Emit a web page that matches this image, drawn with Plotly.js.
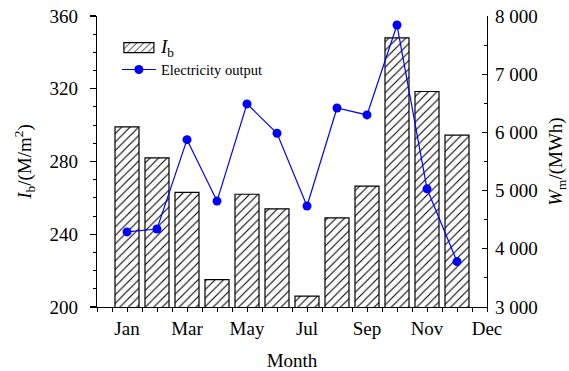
<!DOCTYPE html>
<html>
<head>
<meta charset="utf-8">
<script src="https://cdn.plot.ly/plotly-3.0.1.min.js"></script>
<style>
  html, body { margin: 0; padding: 0; background: #fff; }
  #chart { width: 569px; height: 371px; }
</style>
</head>
<body>
<div id="chart"></div>
<script>
// Monthly irradiation (bars, left axis) and electricity output (line, right axis)
const months = ['Jan', 'Feb', 'Mar', 'Apr', 'May', 'Jun', 'Jul', 'Aug', 'Sep', 'Oct', 'Nov', 'Dec'];
const irradiation = [299, 282, 263, 215, 262, 254, 206, 249, 266.5, 348, 318.5, 294.5];
const electricityOutput = [4290, 4340, 5875, 4820, 6490, 5985, 4735, 6420, 6300, 7845, 5030, 3780];

// Axis labelling: every other month is written, the last label sits one slot past December
const tickPositions = [1, 3, 5, 7, 9, 11, 13];
const tickLabels = ['Jan', 'Mar', 'May', 'Jul', 'Sep', 'Nov', 'Dec'];

const xPos = months.map((m, i) => i + 1);
const serif = '"Liberation Serif", "Times New Roman", serif';

const bars = {
  type: 'bar',
  x: xPos,
  y: irradiation,
  width: 0.8,
  name: '<span style="font-size:19px"><i>I</i><sub>b</sub></span>',
  marker: {
    color: '#ffffff',
    line: { color: '#000000', width: 1.2 },
    pattern: { shape: '/', fgcolor: '#000000', bgcolor: '#ffffff', size: 6, solidity: 0.18 }
  },
  yaxis: 'y',
  hoverinfo: 'skip'
};

const line = {
  type: 'scatter',
  mode: 'lines+markers',
  x: xPos,
  y: electricityOutput,
  name: 'Electricity output',
  line: { color: '#0000ff', width: 1.2 },
  marker: { color: '#0000ff', size: 9 },
  yaxis: 'y2',
  hoverinfo: 'skip'
};

const layout = {
  width: 569,
  height: 371,
  margin: { l: 97, r: 82, t: 16, b: 64 },
  paper_bgcolor: '#ffffff',
  plot_bgcolor: '#ffffff',
  font: { family: serif, size: 19, color: '#000000' },
  separators: '. ',
  showlegend: true,
  legend: {
    x: 0.051, y: 0.946, xanchor: 'left', yanchor: 'top',
    bgcolor: 'rgba(0,0,0,0)',
    font: { family: serif, size: 14.5, color: '#000000' },
    itemwidth: 34,
    tracegroupgap: 0
  },
  xaxis: {
    range: [0, 13],
    tickmode: 'array',
    tickvals: tickPositions,
    ticktext: tickLabels,
    ticks: 'outside', ticklen: 4, tickwidth: 1, tickcolor: '#000',
    minor: { dtick: 0.5, tick0: 0, ticks: 'outside', ticklen: 4, tickwidth: 1, tickcolor: '#000' },
    showline: true, linecolor: '#000', linewidth: 1.3,
    showgrid: false, zeroline: false,
    title: { text: 'Month', font: { family: serif, size: 19 }, standoff: 16 },
    tickfont: { family: serif, size: 19 }
  },
  yaxis: {
    range: [200, 360],
    dtick: 40, tick0: 200,
    ticks: 'outside', ticklen: 6, tickwidth: 1.3, tickcolor: '#000',
    minor: { dtick: 10, ticks: 'outside', ticklen: 3, tickwidth: 1, tickcolor: '#000' },
    showline: true, linecolor: '#000', linewidth: 1.3,
    showgrid: false, zeroline: false,
    ticklabelstandoff: 8,
    title: { text: '<i>I</i><sub>b</sub>/(M/m<sup>2</sup>)', font: { family: serif, size: 19 }, standoff: 12 },
    tickfont: { family: serif, size: 19 }
  },
  yaxis2: {
    overlaying: 'y',
    side: 'right',
    range: [3000, 8000],
    dtick: 1000, tick0: 3000,
    tickformat: ',d',
    ticks: 'inside', ticklen: 5, tickwidth: 1.3, tickcolor: '#000',
    minor: { dtick: 500, ticks: 'inside', ticklen: 3, tickwidth: 1, tickcolor: '#000' },
    showline: true, linecolor: '#000', linewidth: 1.3,
    showgrid: false, zeroline: false,
    ticklabelstandoff: 3,
    title: { text: '<i>W</i><sub>m</sub>/(MWh)', font: { family: serif, size: 19 }, standoff: 12 },
    tickfont: { family: serif, size: 19 }
  }
};

Plotly.newPlot('chart', [bars, line], layout, { staticPlot: true, displayModeBar: false })
  .then(gd => {
    // widen the hatched legend swatch of the bar series into a flat box
    const swatch = gd.querySelector('.legend .traces .legendpoints path');
    if (swatch) swatch.setAttribute('d', 'M-15,5H15V-5H-15Z');
  });
</script>
</body>
</html>
